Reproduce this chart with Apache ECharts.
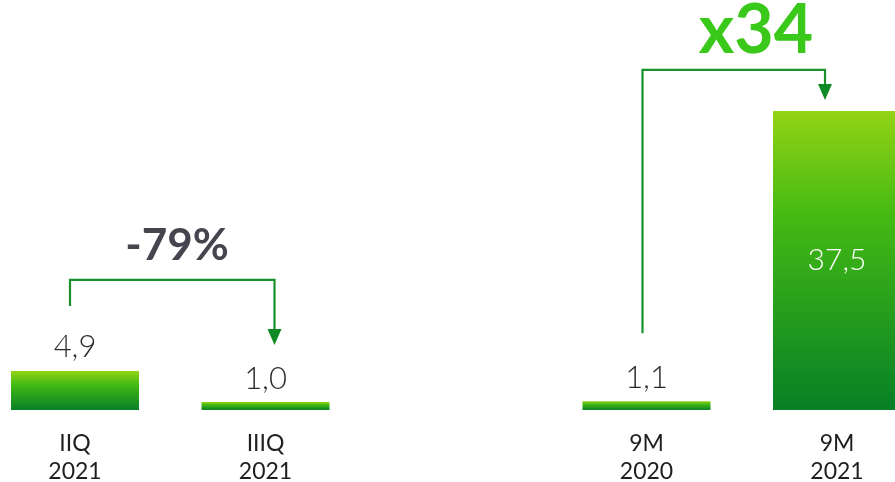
<!DOCTYPE html>
<html>
<head>
<meta charset="utf-8">
<script src="https://cdn.jsdelivr.net/npm/echarts@6/dist/echarts.min.js"></script>
<style>
html, body { margin: 0; padding: 0; background: #fff; }
#chart { width: 895px; height: 482px; }
</style>
</head>
<body>
<div id="chart"></div>
<script>
// periods and values (bln), empty slot separates the two comparisons
const categories = ['IIQ\n2021', 'IIIQ\n2021', '', '9M\n2020', '9M\n2021']
const values = [4.9, 1.0, null, 1.1, 37.5]
const changeQ = '-79%'
const change9M = 'x34'

const fmt = v => v.toFixed(1).replace('.', ',')

const barColor = new echarts.graphic.LinearGradient(0, 0, 0, 1, [
	{ offset: 0, color: '#93d315' },
	{ offset: 0.35, color: '#44ba13' },
	{ offset: 1, color: '#078026' }
])

const chart = echarts.init(document.getElementById('chart'))

chart.setOption({
	animation: false,
	grid: {
		top: 91,
		bottom: 72,
		left: 75,
		right: 58,
		outerBoundsMode: 'none'
	},
	xAxis: {
		type: 'category',
		data: categories,
		boundaryGap: false,
		axisLine: { show: false },
		axisTick: { show: false },
		splitLine: { show: false },
		axisLabel: {
			color: '#1e1e1e',
			fontFamily: 'Lato',
			fontSize: 23,
			lineHeight: 28,
			margin: 20,
			interval: 0
		}
	},
	yAxis: {
		type: 'value',
		min: 0,
		max: 40,
		show: false,
		splitLine: { show: false }
	},
	series: [{
		type: 'bar',
		barWidth: 128,
		clip: false,
		itemStyle: { color: barColor },
		label: {
			show: true,
			position: 'top',
			distance: 8,
			color: '#2a2a2a',
			fontFamily: 'Lato',
			fontWeight: 300,
			fontSize: 31,
			formatter: p => fmt(p.value)
		},
		data: values.map((v, i) => {
			if (v === null) return null
			if (i === 4) {
				return {
					value: v,
					label: { position: 'inside', color: '#ffffff', fontSize: 30 }
				}
			}
			return v
		})
	}]
})

// change annotations: bracket arrows placed from bar positions
function px(i, v) {
	return chart.convertToPixel({ gridIndex: 0 }, [i, v])
}

function bracket(from, to, startY, topY, tipY, dxFrom, dxTo) {
	const a = px(from, 0)[0] + dxFrom
	const b = px(to, 0)[0] + dxTo
	return [{
		type: 'polyline',
		shape: { points: [[a, startY], [a, topY], [b, topY], [b, tipY - 14]] },
		style: { stroke: '#1a8f2a', lineWidth: 2.2, fill: null }
	}, {
		type: 'polygon',
		shape: { points: [[b - 7, tipY - 16], [b + 7, tipY - 16], [b, tipY]] },
		style: { fill: '#0f8a25' }
	}]
}

const top1 = px(0, values[0])[1]
const top2 = px(1, values[1])[1]
const top3 = px(3, values[3])[1]
const top4 = px(4, values[4])[1]

const g1 = bracket(0, 1, top1 - 65, top1 - 91, top2 - 57, -5, 9)
const g2 = bracket(3, 4, top3 - 68, top4 - 41, top4 - 11, -4, -12)

chart.setOption({
	graphic: g1.concat(g2).concat([{
		type: 'text',
		x: 177,
		y: 246,
		style: {
			text: changeQ,
			fill: '#45454f',
			font: 'bold 44px Lato',
			align: 'center',
			verticalAlign: 'middle'
		}
	}, {
		type: 'text',
		x: 756,
		y: 31,
		style: {
			text: change9M,
			fill: '#3ac81a',
			font: 'bold 68px Lato',
			align: 'center',
			verticalAlign: 'middle'
		}
	}])
})
</script>
</body>
</html>
